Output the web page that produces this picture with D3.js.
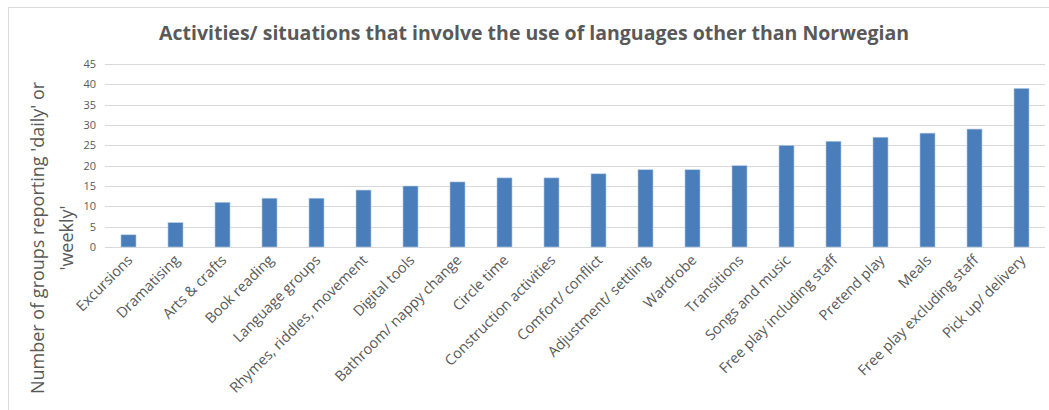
<!DOCTYPE html>
<html>
<head>
<meta charset="utf-8">
<script src="https://cdn.jsdelivr.net/npm/d3@7"></script>
<style>
  body { margin: 0; background: #fff; }
  text { font-family: "Open Sans", sans-serif; fill: #595959; }
</style>
</head>
<body>
<div id="chart"></div>
<script>
// categories + values
var activities = ["Excursions", "Dramatising", "Arts & crafts", "Book reading", "Language groups",
  "Rhymes, riddles, movement", "Digital tools", "Bathroom/ nappy change", "Circle time",
  "Construction activities", "Comfort/ conflict", "Adjustment/ settling", "Wardrobe", "Transitions",
  "Songs and music", "Free play including staff", "Pretend play", "Meals",
  "Free play excluding staff", "Pick up/ delivery"];
var groupCounts = [3, 6, 11, 12, 12, 14, 15, 16, 17, 17, 18, 19, 19, 20, 25, 26, 27, 28, 29, 39];
var yTicks = [0, 5, 10, 15, 20, 25, 30, 35, 40, 45];
var chartTitle = "Activities/ situations that involve the use of languages other than Norwegian";
var yTitle = ["Number of groups reporting 'daily' or", "'weekly'"];

var W = 1049, H = 410;
// (don't call these top/left at global scope, window.top is read-only)
var plotL = 105, plotR = 1045, plotT = 64, plotB = 247;

var svg = d3.select("#chart").append("svg")
    .attr("width", W)
    .attr("height", H);

// chart frame
svg.append("rect")
    .attr("x", 8.5).attr("y", 7.5)
    .attr("width", W).attr("height", H)
    .attr("fill", "none")
    .attr("stroke", "#d9d9d9");

var x = d3.scaleBand()
    .domain(activities)
    .range([plotL, plotR])
    .paddingInner(0.68)
    .paddingOuter(0.34);

var y = d3.scaleLinear()
    .domain([0, 45])
    .range([plotB, plotT]);

// gridlines
svg.append("g")
    .selectAll("line")
    .data(yTicks)
    .enter().append("line")
    .attr("x1", plotL).attr("x2", plotR)
    .attr("y1", function(d) { return Math.round(y(d)) + 0.5; })
    .attr("y2", function(d) { return Math.round(y(d)) + 0.5; })
    .attr("stroke", "#d9d9d9")
    .attr("stroke-width", 1);

// y axis labels
var yAxis = d3.axisLeft(y).tickValues(yTicks).tickSize(0).tickPadding(9);
var gy = svg.append("g")
    .attr("transform", "translate(" + plotL + ",0)")
    .call(yAxis);
gy.select(".domain").remove();
gy.selectAll("text")
    .style("font-family", "'Open Sans', sans-serif")
    .style("font-size", "11px")
    .attr("fill", "#595959");

// bars
svg.append("g")
    .selectAll("rect")
    .data(groupCounts)
    .enter().append("rect")
    .attr("x", function(d, i) { return x(activities[i]); })
    .attr("y", function(d) { return y(d); })
    .attr("width", x.bandwidth())
    .attr("height", function(d) { return plotB - y(d); })
    .attr("fill", "#4a7ebb")
    .attr("stroke", "#b9cde5")
    .attr("stroke-width", 0.6);

// x axis labels, rotated
var xAxis = d3.axisBottom(x).tickSize(0).tickPadding(0);
var gx = svg.append("g")
    .attr("transform", "translate(0," + plotB + ")")
    .call(xAxis);
gx.select(".domain").remove();
gx.selectAll("text")
    .style("font-family", "'Open Sans', sans-serif")
    .style("font-size", "14.5px")
    .attr("fill", "#595959")
    .style("text-anchor", "end")
    .attr("dy", "0")
    .attr("transform", "translate(5,14) rotate(-45)");

// title
svg.append("text")
    .attr("x", 534)
    .attr("y", 40)
    .attr("text-anchor", "middle")
    .style("font-size", "19.5px")
    .style("font-weight", "bold")
    .text(chartTitle);

// y title, two lines
var yt = svg.append("text")
    .attr("transform", "translate(44,238) rotate(-90)")
    .attr("text-anchor", "middle")
    .style("font-size", "18px");
yt.selectAll("tspan")
    .data(yTitle)
    .enter().append("tspan")
    .attr("x", 0)
    .attr("dy", function(d, i) { return i == 0 ? 0 : 29; })
    .text(function(d) { return d; });
</script>
</body>
</html>
